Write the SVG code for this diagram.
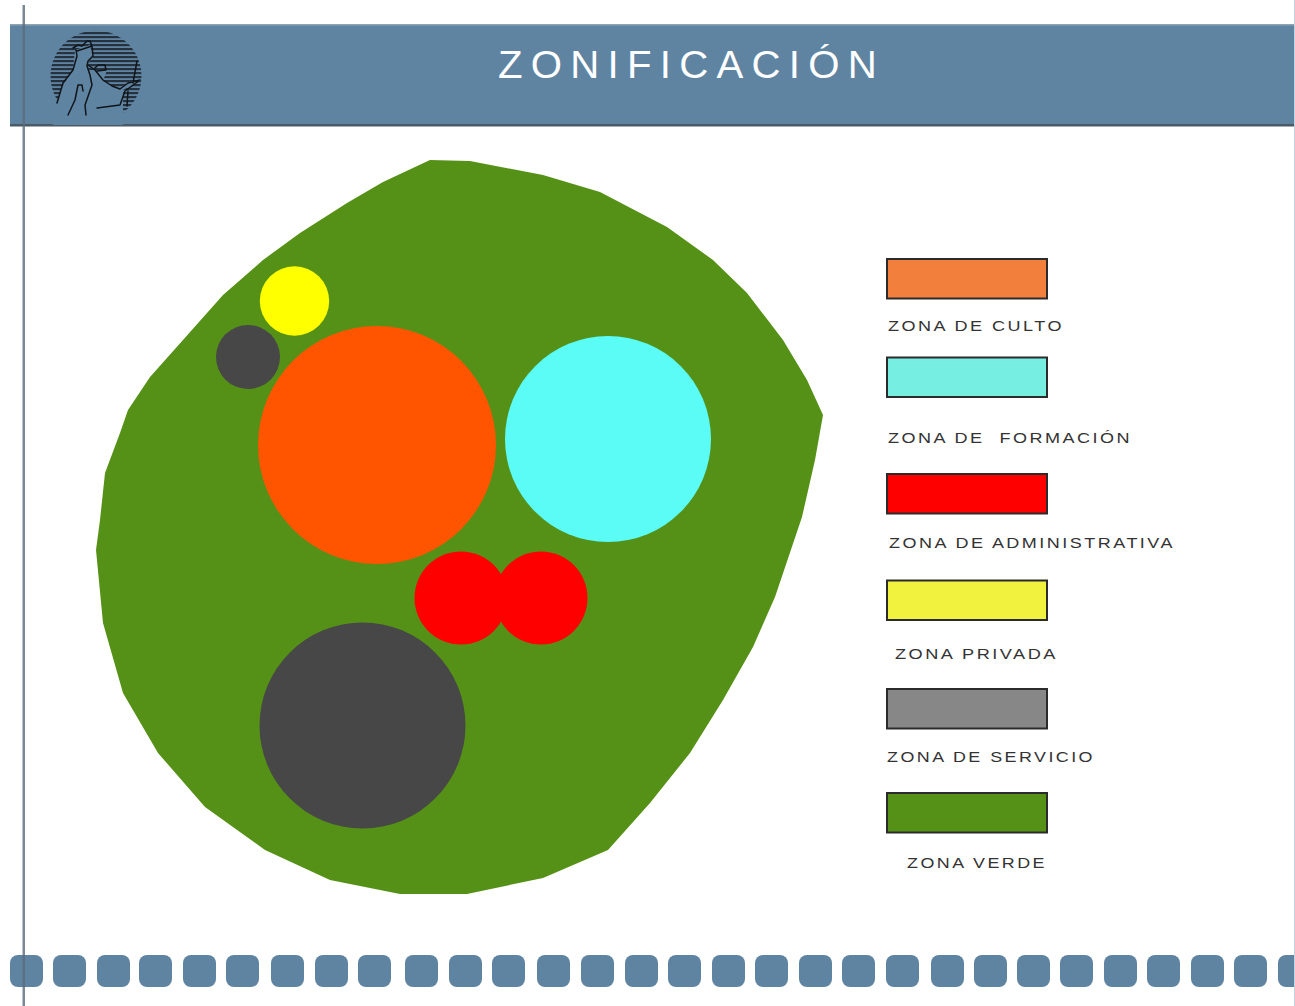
<svg xmlns="http://www.w3.org/2000/svg" width="1295" height="1006" viewBox="0 0 1295 1006">
<style>
.sw{stroke:#2b2b2b;stroke-width:2}
.lg{font-family:"Liberation Sans",Arial,sans-serif;font-size:14.5px;fill:#333;letter-spacing:2px}
.sq{fill:#5f84a2}
.ink{fill:none;stroke:#10151a;stroke-width:1.5;stroke-linecap:round;stroke-linejoin:round}
</style>
<defs>
<pattern id="st" width="4" height="4" patternUnits="userSpaceOnUse"><rect width="4" height="2.2" fill="#26323e"/></pattern>
</defs>
<rect width="1295" height="1006" fill="#fff"/>
<g id="header">
<rect x="10" y="25" width="1285" height="100" fill="#5f84a2"/>
<rect x="10" y="124" width="1285" height="2.500" fill="#4a5a66"/>
<rect x="10" y="24" width="1285" height="1.500" fill="#8fa3b3"/>
<text x="498" y="78" font-family="'Liberation Sans',Arial,sans-serif" font-size="39" letter-spacing="8" fill="#fff" textLength="387" lengthAdjust="spacingAndGlyphs">ZONIFICACIÓN</text>
</g>
<g id="logo">
<circle cx="96" cy="76" r="45.500" fill="url(#st)"/>
<path d="M55 106L63 85L73 70L75 50L90 45L93 58L87 63L88 70L97 71L107 70L103 81L117 88L130 83L142 80L123 90L123 125L53 125Z" fill="#5f84a2"/>
<path class="ink" d="M73 48L78 45L82 46L87 41L90 41L92 46L77 51M57 103L63 83L73 70L77 56L76 50M92 46L93 56L88 61L87 66L90 75L92 85L85 105L86 115M68 115L75 100L78 85L82 85L83 91M95 68L98 65L105 65L106 70L97 71M88 65L95 70L103 80L112 86L120 89L128 83L140 80L125 91L120 105L97 108M133 83L137 61M128 91L127 106"/>
</g>
<g id="site">
<path fill="#569117" d="M430 160L470 161L543 175L600 192L667 227L713 260L747 293L783 340L807 380L823 415L815 460L802 517L775 597L753 647L723 700L690 753L650 803L608 850L543 878L467 894L400 894L330 880L265 850L205 807L158 753L123 693L103 623L96 550L100 520L105 473L120 433L128 410L150 377L183 340L223 295L263 260L300 233L347 203L383 182Z"/>
</g>
<g id="culto"><circle cx="377" cy="445" r="119" fill="#ff5500"/></g>
<g id="formacion"><circle cx="608" cy="439" r="103" fill="#5bfcf6"/></g>
<g id="privada"><circle cx="294.500" cy="301" r="34.700" fill="#ffff00"/></g>
<g id="servicio-small"><circle cx="248" cy="357" r="32" fill="#474747"/></g>
<g id="admin-a"><circle cx="461" cy="598" r="46.500" fill="#ff0000"/></g>
<g id="admin-b"><circle cx="541" cy="598" r="46.500" fill="#ff0000"/></g>
<g id="servicio-large"><circle cx="362.500" cy="725.500" r="103" fill="#474747"/></g>
<g id="legend">
<rect class="sw" x="887" y="259" width="160" height="39.500" fill="#f2803c"/>
<text class="lg" x="888" y="331" textLength="176" lengthAdjust="spacingAndGlyphs">ZONA DE CULTO</text>
<rect class="sw" x="887" y="357.500" width="160" height="39.500" fill="#77eee2"/>
<text class="lg" x="888" y="443" textLength="244" lengthAdjust="spacingAndGlyphs" xml:space="preserve">ZONA DE  FORMACIÓN</text>
<rect class="sw" x="887" y="474" width="160" height="39.500" fill="#ff0000"/>
<text class="lg" x="889" y="548" textLength="286" lengthAdjust="spacingAndGlyphs">ZONA DE ADMINISTRATIVA</text>
<rect class="sw" x="887" y="580.500" width="160" height="39.500" fill="#f0f23e"/>
<text class="lg" x="895" y="659" textLength="163" lengthAdjust="spacingAndGlyphs">ZONA PRIVADA</text>
<rect class="sw" x="887" y="689" width="160" height="39.500" fill="#878787"/>
<text class="lg" x="887" y="762" textLength="208" lengthAdjust="spacingAndGlyphs">ZONA DE SERVICIO</text>
<rect class="sw" x="887" y="793" width="160" height="39.500" fill="#569117"/>
<text class="lg" x="907" y="868" textLength="140" lengthAdjust="spacingAndGlyphs">ZONA VERDE</text>
</g>
<g id="footer">
<rect class="sq" x="10" y="955" width="33" height="32" rx="8"/>
<rect class="sq" x="53" y="955" width="33" height="32" rx="8"/>
<rect class="sq" x="97" y="955" width="33" height="32" rx="8"/>
<rect class="sq" x="139" y="955" width="33" height="32" rx="8"/>
<rect class="sq" x="183" y="955" width="33" height="32" rx="8"/>
<rect class="sq" x="226" y="955" width="33" height="32" rx="8"/>
<rect class="sq" x="271" y="955" width="33" height="32" rx="8"/>
<rect class="sq" x="315" y="955" width="33" height="32" rx="8"/>
<rect class="sq" x="358" y="955" width="33" height="32" rx="8"/>
<rect class="sq" x="405" y="955" width="33" height="32" rx="8"/>
<rect class="sq" x="449" y="955" width="33" height="32" rx="8"/>
<rect class="sq" x="492" y="955" width="33" height="32" rx="8"/>
<rect class="sq" x="537" y="955" width="33" height="32" rx="8"/>
<rect class="sq" x="581" y="955" width="33" height="32" rx="8"/>
<rect class="sq" x="625" y="955" width="33" height="32" rx="8"/>
<rect class="sq" x="668" y="955" width="33" height="32" rx="8"/>
<rect class="sq" x="712" y="955" width="33" height="32" rx="8"/>
<rect class="sq" x="755" y="955" width="33" height="32" rx="8"/>
<rect class="sq" x="799" y="955" width="33" height="32" rx="8"/>
<rect class="sq" x="842" y="955" width="33" height="32" rx="8"/>
<rect class="sq" x="886" y="955" width="33" height="32" rx="8"/>
<rect class="sq" x="931" y="955" width="33" height="32" rx="8"/>
<rect class="sq" x="974" y="955" width="33" height="32" rx="8"/>
<rect class="sq" x="1017" y="955" width="33" height="32" rx="8"/>
<rect class="sq" x="1060" y="955" width="33" height="32" rx="8"/>
<rect class="sq" x="1104" y="955" width="33" height="32" rx="8"/>
<rect class="sq" x="1147" y="955" width="33" height="32" rx="8"/>
<rect class="sq" x="1191" y="955" width="33" height="32" rx="8"/>
<rect class="sq" x="1234" y="955" width="33" height="32" rx="8"/>
<rect class="sq" x="1278" y="955" width="33" height="32" rx="8"/>
</g>
<g id="margin">
<rect x="22.500" y="5" width="2.500" height="1001" fill="#5a6b7a" fill-opacity="0.8"/>
<rect x="1294" y="0" width="1" height="1006" fill="#c4d2de"/>
</g>
</svg>
